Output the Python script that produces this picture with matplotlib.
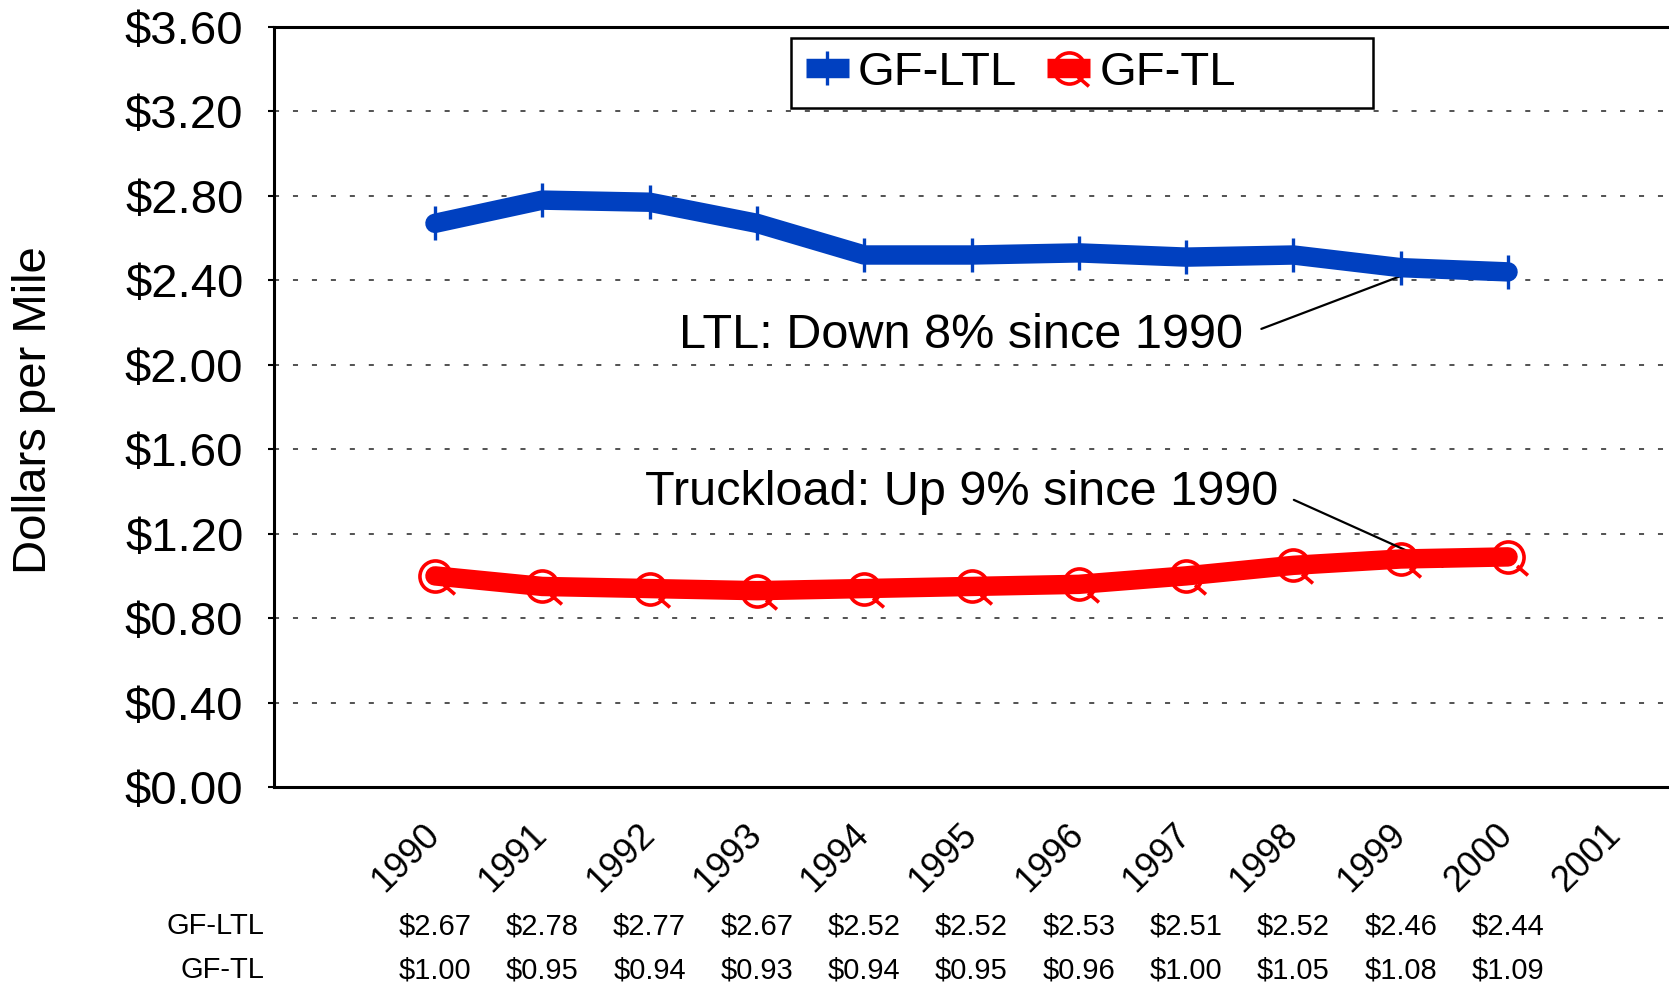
import matplotlib
matplotlib.use("Agg")
import matplotlib.pyplot as plt
from matplotlib.path import Path
from matplotlib.lines import Line2D
from matplotlib.patches import Rectangle

plt.rcParams['font.family'] = ['Liberation Sans', 'DejaVu Sans']

years = [1990, 1991, 1992, 1993, 1994, 1995, 1996, 1997, 1998, 1999, 2000]
all_years = years + [2001]
ltl = [2.67, 2.78, 2.77, 2.67, 2.52, 2.52, 2.53, 2.51, 2.52, 2.46, 2.44]
tl = [1.00, 0.95, 0.94, 0.93, 0.94, 0.95, 0.96, 1.00, 1.05, 1.08, 1.09]
series_names = ["GF-LTL", "GF-TL"]
yticks = [0.0, 0.4, 0.8, 1.2, 1.6, 2.0, 2.4, 2.8, 3.2, 3.6]

BLUE = '#0040C0'
RED = '#FF0000'

W, H = 1669, 985
fig = plt.figure(figsize=(W / 100, H / 100), dpi=100)
ax = fig.add_axes([274 / W, 1 - 787 / H, 1 - 274 / W, (787 - 27) / H])

# Q-shaped marker: circle with a tail
qpath = Path.make_compound_path(
    Path.unit_circle(),
    Path([(0.55, -0.55), (1.25, -1.15)], [Path.MOVETO, Path.LINETO]))

lw = 14
# markers beneath the lines
ax.plot(years, ltl, ls='none', marker='|', ms=25, mew=2.4, color=BLUE, zorder=3)
ax.plot(years, tl, ls='none', marker=qpath, ms=28, mew=2.6, mfc='none', mec=RED, zorder=3)
ax.plot(years, ltl, color=BLUE, lw=lw, solid_capstyle='round', solid_joinstyle='round', zorder=4)
ax.plot(years, tl, color=RED, lw=lw, solid_capstyle='round', solid_joinstyle='round', zorder=4)

ax.set_xlim(1988.5, 2001.5)
ax.set_ylim(0, 3.6)
ax.set_yticks(yticks)
ax.set_yticklabels([f"${v:.2f}" for v in yticks], fontsize=34)
ax.tick_params(axis='y', length=4, width=1.5, pad=18)
ax.set_xticks(all_years)
ax.set_xticklabels([])
ax.tick_params(axis='x', length=0)

ax.yaxis.grid(True, color='#444444', lw=1.3, linestyle=(0, (2.8, 7.7)))
ax.set_axisbelow(True)
for s in ['left', 'top', 'bottom']:
    ax.spines[s].set_linewidth(2.2)
ax.spines['right'].set_visible(False)

# rotated year labels
for y in all_years:
    ax.text(y - 0.27, -0.335, str(y), rotation=45, ha='center', va='center',
            fontsize=26, clip_on=False)

# data table below
ax.text(1988.41, -0.659, series_names[0], ha='right', va='center', fontsize=21, clip_on=False)
ax.text(1988.41, -0.867, series_names[1], ha='right', va='center', fontsize=21, clip_on=False)
for x, a, b in zip(years, ltl, tl):
    ax.text(x, -0.659, f"${a:.2f}", ha='center', va='center', fontsize=21, clip_on=False)
    ax.text(x, -0.867, f"${b:.2f}", ha='center', va='center', fontsize=21, clip_on=False)

# annotations
ax.annotate('LTL: Down 8% since 1990', xy=(1999.05, 2.43), xytext=(1997.53, 2.137),
            ha='right', va='center', fontsize=35,
            arrowprops=dict(arrowstyle='-', lw=1.6, color='black', relpos=(1, 0.5),
                            shrinkA=12, shrinkB=0))
ax.annotate('Truckload: Up 9% since 1990', xy=(1999.39, 1.043), xytext=(1997.86, 1.393),
            ha='right', va='center', fontsize=35,
            arrowprops=dict(arrowstyle='-', lw=1.6, color='black', relpos=(1, 0.5),
                            shrinkA=10, shrinkB=0))

# y label
fig.text(34 / W, 1 - 410 / H, 'Dollars per Mile', rotation=90, ha='center', va='center',
         fontsize=34)

# legend box
fig.patches.append(Rectangle((791 / W, 1 - 108 / H), (1373 - 791) / W, 70 / H,
                             transform=fig.transFigure, fill=True, fc='white',
                             ec='black', lw=1.8, zorder=5))
handles = [
    Line2D([], [], color=BLUE, lw=lw, solid_capstyle='butt', marker='|', ms=25, mew=2.4),
    Line2D([], [], color=RED, lw=lw, solid_capstyle='butt', marker=qpath, ms=28, mew=2.6,
           mfc='none', mec=RED),
]
leg = fig.legend(handles, series_names, loc='center left',
                 bbox_to_anchor=(806 / W, 1 - 73 / H), ncol=2, frameon=False,
                 fontsize=34, handlelength=0.91, handletextpad=0.19,
                 columnspacing=0.64, borderpad=0, borderaxespad=0)
leg.set_zorder(6)

fig.savefig('out.png', dpi=100)
